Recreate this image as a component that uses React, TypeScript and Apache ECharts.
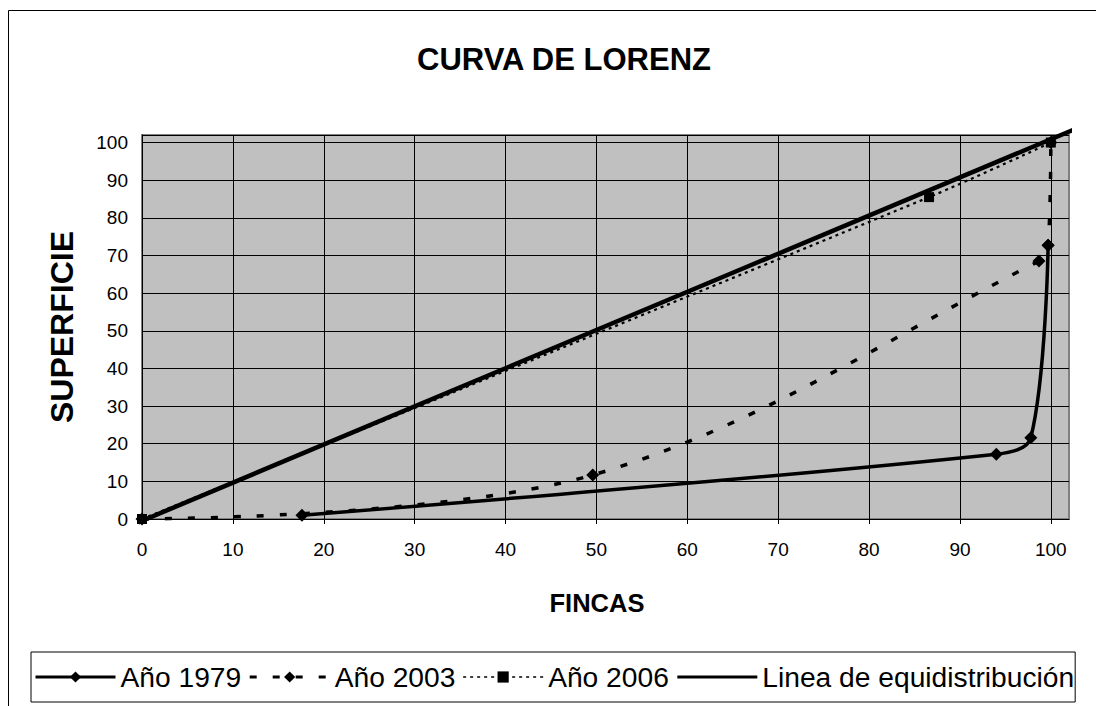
import React, { useEffect, useRef } from "react";
import * as echarts from "echarts";

const xTicks = [0, 10, 20, 30, 40, 50, 60, 70, 80, 90, 100];
const yTicks = [0, 10, 20, 30, 40, 50, 60, 70, 80, 90, 100];

const seriesNames = ["Año 1979", "Año 2003", "Año 2006", "Linea de equidistribución"];

const year1979 = [
  [17.6, 1.0],
  [94.0, 17.2],
  [97.8, 21.6],
  [99.7, 72.7],
];
const year2003 = [
  [0, 0],
  [49.6, 11.7],
  [98.7, 68.5],
  [99.7, 72.7],
  [100, 100],
];
const year2006 = [
  [0, 0],
  [86.6, 85.5],
  [100, 100],
];
const equiLine = [
  [-1.3, -1.8],
  [102.5, 103.4],
];

const FONT = "'Liberation Sans', Arial, Helvetica, sans-serif";

export default function App() {
  const ref = useRef<HTMLDivElement>(null);
  useEffect(() => {
    document.body.style.margin = "0";
    const chart = echarts.init(ref.current!, null, { renderer: "svg" });
    chart.setOption({
      animation: false,
      backgroundColor: "#ffffff",
      textStyle: { fontFamily: FONT, color: "#000" },
      grid: {
        left: 142,
        top: 135,
        width: 927,
        height: 384,
        show: true,
        backgroundColor: "#c0c0c0",
        borderColor: "#808080",
        borderWidth: 2,
      },
      xAxis: {
        type: "value",
        min: 0,
        max: 102,
        interval: 10,
        axisLine: { show: true, onZero: false, lineStyle: { color: "#000", width: 1 } },
        axisTick: { show: true, length: 5, lineStyle: { color: "#000", width: 1 }, customValues: xTicks },
        axisLabel: { customValues: xTicks, color: "#000", fontSize: 19, margin: 21, fontFamily: FONT },
        splitLine: { show: true, lineStyle: { color: "#000", width: 1 } },
      },
      yAxis: {
        type: "value",
        min: 0,
        max: 102,
        interval: 10,
        axisLine: { show: true, onZero: false, lineStyle: { color: "#000", width: 1 } },
        axisTick: { show: false },
        axisLabel: { customValues: yTicks, color: "#000", fontSize: 19, margin: 14, fontFamily: FONT },
        splitLine: { show: true, lineStyle: { color: "#000", width: 1 } },
      },
      legend: {
        data: [
          { name: seriesNames[0], lineStyle: { width: 3 } },
          { name: seriesNames[1], lineStyle: { width: 3 } },
          { name: seriesNames[2], lineStyle: { width: 1.5 } },
          { name: seriesNames[3], lineStyle: { width: 3 }, itemStyle: { opacity: 0 } },
        ],
        left: 31,
        top: 652,
        orient: "horizontal",
        itemWidth: 80,
        itemHeight: 14,
        itemGap: 7,
        padding: [11, 1, 11, 3],
        borderColor: "#000",
        borderWidth: 1,
        backgroundColor: "#fff",
        textStyle: { fontSize: 28.2, color: "#000", fontFamily: FONT },
      },
      graphic: [
        {
          type: "rect",
          z: -10,
          shape: { x: 8.5, y: 10.5, width: 1300, height: 900 },
          style: { fill: "none", stroke: "#000", lineWidth: 1 },
        },
        {
          type: "text",
          x: 564,
          y: 59,
          style: {
            text: "CURVA DE LORENZ",
            font: `bold 31px ${FONT}`,
            fill: "#000",
            textAlign: "center",
            textVerticalAlign: "middle",
          },
        },
        {
          type: "text",
          x: 62,
          y: 327,
          rotation: Math.PI / 2,
          style: {
            text: "SUPERFICIE",
            font: `bold 32px ${FONT}`,
            fill: "#000",
            textAlign: "center",
            textVerticalAlign: "middle",
          },
        },
        {
          type: "text",
          x: 597,
          y: 603,
          style: {
            text: "FINCAS",
            font: `bold 25.5px ${FONT}`,
            fill: "#000",
            textAlign: "center",
            textVerticalAlign: "middle",
          },
        },
      ],
      series: [
        {
          name: seriesNames[0],
          type: "line",
          data: year1979,
          smooth: 0.35,
          symbol: "diamond",
          symbolSize: 13,
          lineStyle: { color: "#000", width: 3.5 },
          itemStyle: { color: "#000" },
          z: 3,
        },
        {
          name: seriesNames[1],
          type: "line",
          data: year2003,
          smooth: 0.35,
          symbol: "diamond",
          symbolSize: 13,
          lineStyle: { color: "#000", width: 3.5, type: [7, 16] },
          itemStyle: { color: "#000" },
          z: 3,
        },
        {
          name: seriesNames[2],
          type: "line",
          data: year2006,
          smooth: 0.35,
          symbol: "rect",
          symbolSize: 10,
          lineStyle: { color: "#000", width: 2.2, type: [3, 4] },
          itemStyle: { color: "#000" },
          z: 3,
        },
        {
          name: seriesNames[3],
          type: "line",
          data: equiLine,
          symbol: "none",
          clip: false,
          lineStyle: { color: "#000", width: 4.5 },
          itemStyle: { color: "#000" },
          z: 4,
        },
      ],
    });
    return () => chart.dispose();
  }, []);
  return <div ref={ref} style={{ width: 1096, height: 706 }} />;
}
